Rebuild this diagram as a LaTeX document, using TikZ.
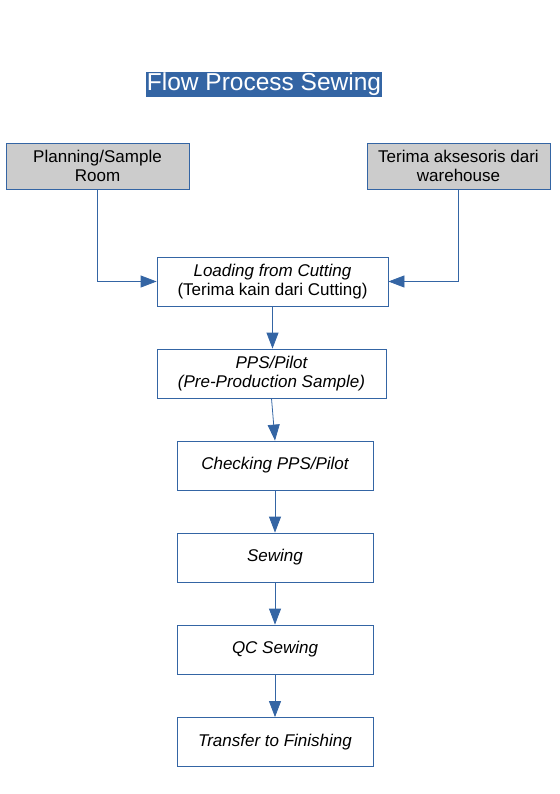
\documentclass[tikz,border=0pt]{standalone}
\usepackage{fontspec}
\setmainfont{Liberation Sans}
\usetikzlibrary{arrows.meta}
\definecolor{lblue}{HTML}{3465A4}
\definecolor{lgray}{HTML}{CCCCCC}
\begin{document}
\begin{tikzpicture}[x=1pt,y=-1pt,
  box/.style={draw=lblue, line width=0.8pt, inner sep=0pt, align=center,
    font=\fontsize{17}{19}\selectfont},
  srcbox/.style={box, fill=lgray, minimum width=183pt, minimum height=46pt},
  stepbox/.style={box, minimum width=196pt, minimum height=49pt, font=\fontsize{17}{19}\selectfont\itshape},
  arr/.style={draw=lblue, line width=0.8pt, -{Triangle[length=16pt,width=12pt]}}
]
\useasboundingbox (0,0) rectangle (559,794);
\node[fill=lblue, text=white, minimum width=236pt, minimum height=25pt, inner sep=0pt,
  font=\fontsize{24.5}{26}\selectfont] (title) at (264,84.5) {Flow Process Sewing};
\node[srcbox] (plan) at (97.5,166) {Planning/Sample\\Room};
\node[srcbox] (terima) at (458.5,166) {Terima aksesoris dari\\warehouse};
\node[box, minimum width=231pt, minimum height=49pt] (load) at (272.5,281.5)
  {\textit{Loading from Cutting}\\(Terima kain dari Cutting)};
\node[box, minimum width=229pt, minimum height=49pt, font=\fontsize{17}{19}\selectfont\itshape] (pps) at (271.5,373.5)
  {PPS/Pilot\\(Pre-Production Sample)};
\node[stepbox] (check) at (275,465.5) {Checking PPS/Pilot};
\node[stepbox] (sew) at (275,557.5) {Sewing};
\node[stepbox] (qc) at (275,649.5) {QC Sewing};
\node[stepbox] (trans) at (275,742) {Transfer to Finishing};
\draw[arr] (plan.south) |- (load.west);
\draw[arr] (terima.south) |- (load.east);
\draw[arr] (load.south) -- (load.south |- pps.north);
\draw[arr] (pps.south) -- (check.north);
\draw[arr] (check) -- (sew);
\draw[arr] (sew) -- (qc);
\draw[arr] (qc) -- (trans);
\end{tikzpicture}
\end{document}
